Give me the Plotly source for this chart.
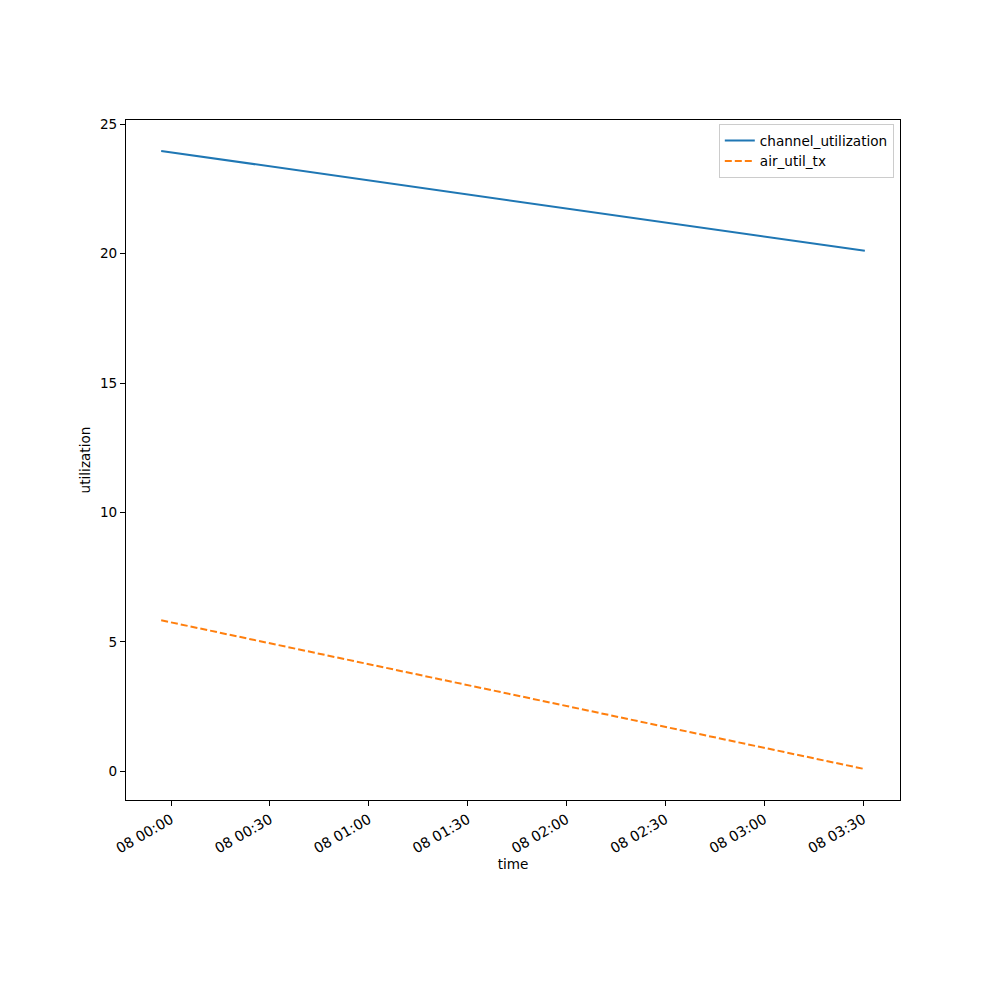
import pandas as pd
import plotly.graph_objects as go

# Data
times = ["2024-01-07 23:57:00", "2024-01-08 03:30:30"]
channel_utilization = [23.97, 20.11]
air_util_tx = [5.83, 0.08]
series_names = ["channel_utilization", "air_util_tx"]
tick_times = ["2024-01-08 00:00", "2024-01-08 00:30", "2024-01-08 01:00", "2024-01-08 01:30",
              "2024-01-08 02:00", "2024-01-08 02:30", "2024-01-08 03:00", "2024-01-08 03:30"]
tick_labels = ["08 00:00", "08 00:30", "08 01:00", "08 01:30",
               "08 02:00", "08 02:30", "08 03:00", "08 03:30"]
y_ticks = [0, 5, 10, 15, 20, 25]

t = pd.to_datetime(times)
tmin, tmax = t.min(), t.max()
xpad = (tmax - tmin) * 0.05
allv = channel_utilization + air_util_tx
ymin, ymax = min(allv), max(allv)
ypad = (ymax - ymin) * 0.05

fig = go.Figure()
fig.add_trace(go.Scatter(x=t, y=channel_utilization, mode="lines", name=series_names[0],
                         line=dict(color="#1f77b4", width=2)))
fig.add_trace(go.Scatter(x=t, y=air_util_tx, mode="lines", name=series_names[1],
                         line=dict(color="#ff7f0e", width=2, dash="7px,3px")))

fs = 13.6
font_family = "DejaVu Sans, sans-serif"
fig.update_layout(
    width=1000, height=1000,
    margin=dict(l=118, r=108, t=112, b=208),
    paper_bgcolor="white", plot_bgcolor="white",
    font=dict(family=font_family, size=fs, color="black"),
    showlegend=True,
    legend=dict(x=0.992, y=0.994, xanchor="right", yanchor="top",
                bgcolor="rgba(255,255,255,0.8)", bordercolor="#cccccc", borderwidth=1,
                font=dict(size=fs), tracegroupgap=0),
)
fig.update_xaxes(
    range=[tmin - xpad, tmax + xpad],
    tickvals=pd.to_datetime(tick_times), ticktext=tick_labels, tickangle=-30,
    tickfont=dict(size=14.2),
    ticks="outside", ticklen=5, tickwidth=1, tickcolor="black",
    showline=True, linecolor="black", linewidth=1, mirror=True,
    showgrid=False, zeroline=False,
    title=dict(text="time", font=dict(size=fs), standoff=4),
)
fig.update_yaxes(
    range=[ymin - ypad, ymax + ypad],
    tickvals=y_ticks,
    ticks="outside", ticklen=5, tickwidth=1, tickcolor="black",
    showline=True, linecolor="black", linewidth=1, mirror=True,
    showgrid=False, zeroline=False,
    title=dict(text="utilization", font=dict(size=fs), standoff=6),
)
fig.write_html("out.html")
